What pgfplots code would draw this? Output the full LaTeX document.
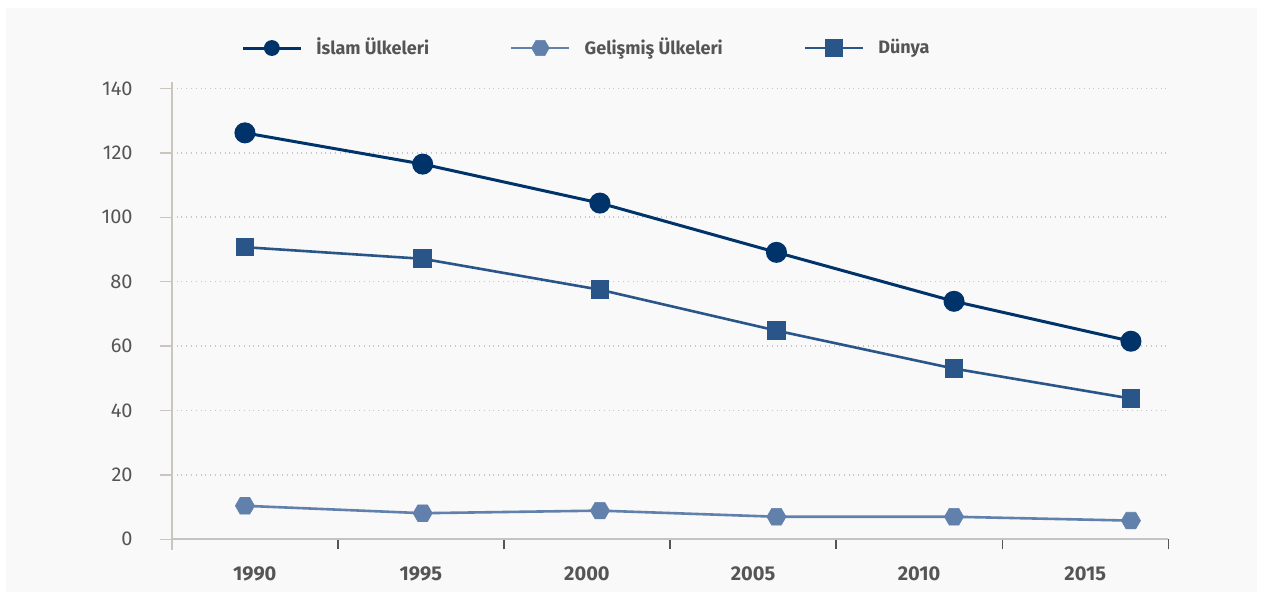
\documentclass[border=0pt]{standalone}
\usepackage{pgfplots}
\pgfplotsset{compat=1.18}
\usepackage{fontspec}
\setmainfont{Fira Sans}
\definecolor{bgc}{HTML}{F9F9F9}
\definecolor{navy}{HTML}{00336A}
\definecolor{dunya}{HTML}{2A5588}
\definecolor{gelis}{HTML}{6180AB}
\definecolor{gridc}{HTML}{C6C6C6}
\definecolor{yaxc}{HTML}{C9C6BE}
\definecolor{xaxc}{HTML}{C4C4C4}
\definecolor{tickc}{HTML}{555555}
\definecolor{txt}{HTML}{555555}
\pgfdeclareplotmark{hexagon}{%
  \pgfpathmoveto{\pgfqpoint{\pgfplotmarksize}{0pt}}%
  \pgfpathlineto{\pgfqpoint{0.5\pgfplotmarksize}{0.866\pgfplotmarksize}}%
  \pgfpathlineto{\pgfqpoint{-0.5\pgfplotmarksize}{0.866\pgfplotmarksize}}%
  \pgfpathlineto{\pgfqpoint{-\pgfplotmarksize}{0pt}}%
  \pgfpathlineto{\pgfqpoint{-0.5\pgfplotmarksize}{-0.866\pgfplotmarksize}}%
  \pgfpathlineto{\pgfqpoint{0.5\pgfplotmarksize}{-0.866\pgfplotmarksize}}%
  \pgfpathclose
  \pgfusepathqfillstroke}
\begin{document}
\begin{tikzpicture}[x=1pt,y=1pt]
\useasboundingbox (0,0) rectangle (631.5,296);
\fill[white] (0,0) rectangle (631.5,296);
\fill[bgc] (3,0) rectangle (628.5,292);
\begin{axis}[
  at={(85.85pt,26.35pt)}, anchor=south west,
  scale only axis, width=498.3pt, height=228.65pt,
  xmin=0, xmax=6, ymin=0, ymax=142,
  clip=false,
  axis line style={draw=none},
  tick pos=left,
  tick align=outside,
  /pgf/number format/assume math mode=true,
  ytick={0,20,...,140},
  ymajorgrids,
  grid style={dotted, gridc, line width=0.8pt},
  xtick={0.5,1.5,...,5.5},
  xticklabels={1990,1995,2000,2005,2010,2015},
  minor xtick={0,1,...,6},
  major tick length=6pt,
  minor tick length=5pt,
  major x tick style={draw=none},
  minor x tick style={draw=tickc, line width=0.7pt},
  major y tick style={draw=yaxc, line width=0.7pt},
  yticklabel style={font=\fontsize{10}{11}\selectfont, text=txt, xshift=-10pt},
  xticklabel style={font=\fontsize{10}{11}\selectfont\bfseries, text=txt, yshift=-4pt},
  legend columns=3,
  legend style={draw=none, fill=none, inner sep=0pt,
    at={(axis description cs:0.0695,1.0743)}, anchor=west,
    font=\fontsize{9}{10}\selectfont\bfseries, text=txt,
    /tikz/every odd column/.append style={column sep=5pt},
    /tikz/every even column/.append style={column sep=38.5pt}},
  legend cell align=left,
  legend image code/.code={%
    \draw[#1, mark repeat=2, mark phase=2] plot coordinates {(0pt,0pt) (14.5pt,0pt) (29pt,0pt)};},
]
\draw[yaxc, line width=0.8pt] (axis cs:0,-3.3) -- (axis cs:0,142);
\draw[xaxc, line width=0.8pt] (axis cs:0,0) -- (axis cs:6,0);
\addplot[navy, line width=1.5pt, mark=*, mark size=4.5pt, mark options={solid, fill=navy, draw=navy},
  legend image post style={mark size=3.2pt}]
  coordinates {(0.441,126.2) (1.511,116.5) (2.578,104.4) (3.641,89.1) (4.710,73.9) (5.775,61.5)};
\addlegendentry{İslam Ülkeleri}
\addplot[gelis, line width=1.3pt, mark=hexagon, mark size=4.8pt, mark options={solid, fill=gelis, draw=gelis, line width=0.3pt},
  legend image post style={mark size=4.4pt}]
  coordinates {(0.441,10.4) (1.511,8.1) (2.578,8.9) (3.641,7.0) (4.710,7.0) (5.775,5.8)};
\addlegendentry{Gelişmiş Ülkeleri}
\addplot[dunya, line width=1.3pt, mark=square*, mark size=4pt, mark options={solid, fill=dunya, draw=dunya}]
  coordinates {(0.441,90.7) (1.511,87.1) (2.578,77.5) (3.641,64.8) (4.710,53.0) (5.775,43.7)};
\addlegendentry{Dünya}
\end{axis}
\end{tikzpicture}
\end{document}
